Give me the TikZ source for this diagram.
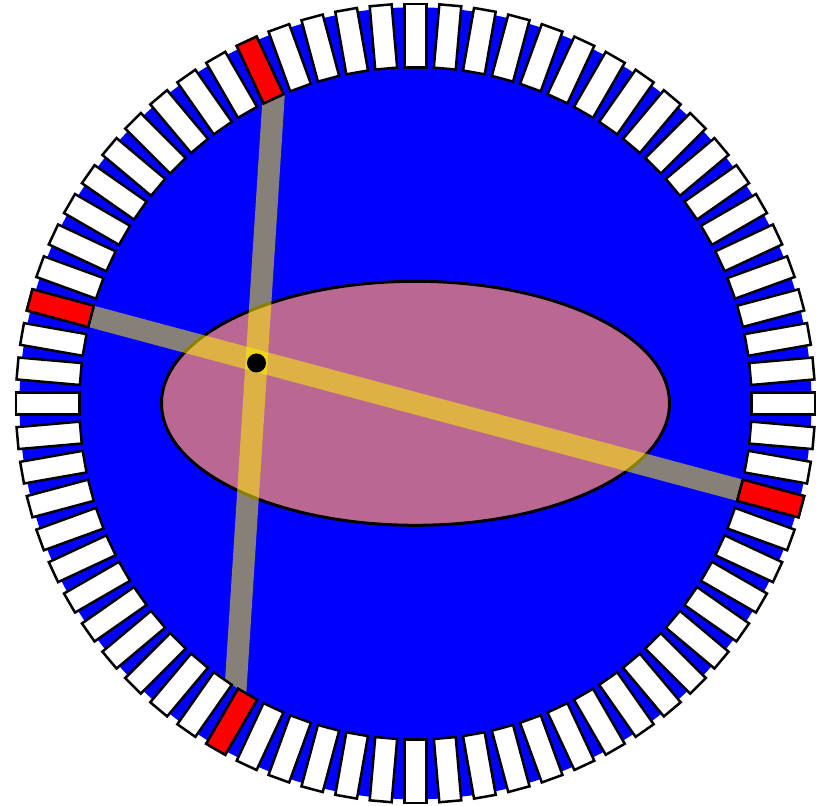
\documentclass[tikz,border=0pt]{standalone}
\usepackage{tikz}
\usetikzlibrary{calc}
\definecolor{phantompink}{RGB}{186,104,146}
\begin{document}
\begin{tikzpicture}[x=1pt, y=1pt,
  detector/.style={draw=black, line width=2.5pt, fill=white},
  hit/.style={detector, fill=red},
  lor/.style={draw=yellow, draw opacity=0.53, line width=22pt},
  phantom/.style={draw=black, line width=3pt, fill=phantompink},
]
\useasboundingbox (-415.5, -402.7) rectangle (407.5, 403.3);
\fill[blue] (0, 0) circle (396);
\draw[phantom] (0, 0) ellipse (254 and 122);
\coordinate (emit)  at (-159, 40.3);
\coordinate (top)   at (115:336);
\coordinate (left)  at (165:336);
\coordinate (right) at (345:336);
\begin{scope}
  \clip (0, 0) circle (336);
  \draw[lor] (left) -- (right);
  \draw[lor] ($(top)!-0.1!(emit)$) -- ($(top)!3!(emit)$);
\end{scope}
\foreach \a in {0, 5, ..., 355}
  \draw[detector, rotate=\a] (336, -11) rectangle (399.5, 11);
\foreach \a in {115, 165, 240, 345}
  \draw[hit, rotate=\a] (336, -11) rectangle (399.5, 11);
\fill[black] (emit) circle (9.5);
\end{tikzpicture}
\end{document}
